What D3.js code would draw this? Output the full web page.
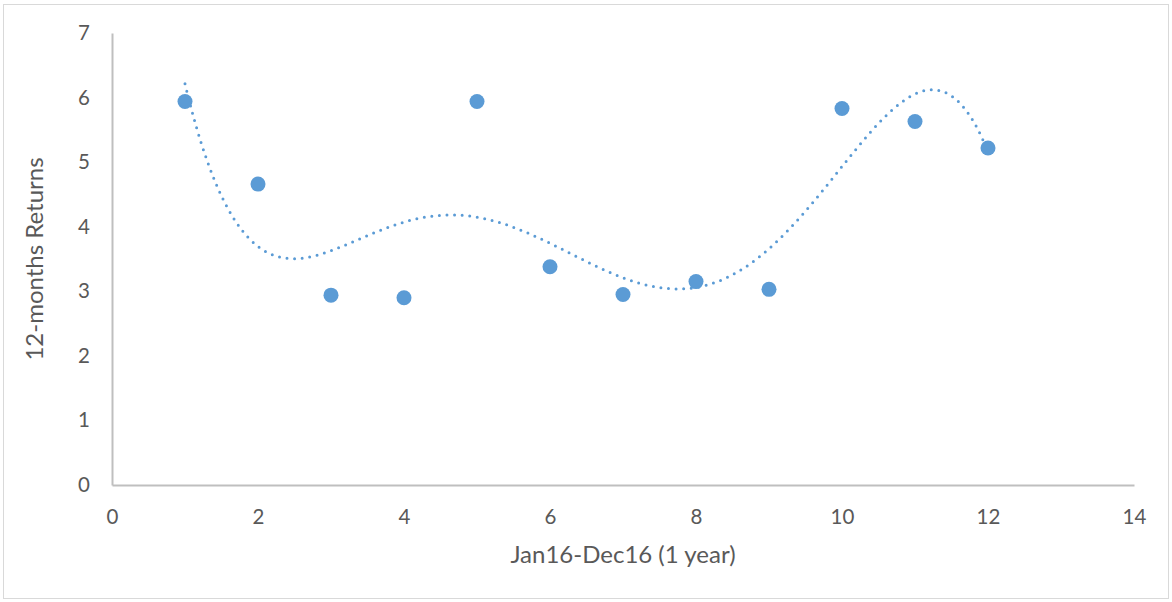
<!DOCTYPE html>
<html>
<head>
<meta charset="utf-8">
<script src="https://cdn.jsdelivr.net/npm/d3@7"></script>
<style>
  html, body { margin: 0; padding: 0; background: #fff; }
  svg { display: block; font-family: Lato, "Open Sans", sans-serif; }
</style>
</head>
<body>
<svg id="chart" width="1172" height="602"></svg>
<script>
// Monthly 12-month returns, Jan16 (1) through Dec16 (12)
const months = [1, 2, 3, 4, 5, 6, 7, 8, 9, 10, 11, 12];
const returns = [5.94, 4.66, 2.94, 2.90, 5.94, 3.38, 2.95, 3.15, 3.03, 5.83, 5.63, 5.22];
const xTicks = [0, 2, 4, 6, 8, 10, 12, 14];
const yTicks = [0, 1, 2, 3, 4, 5, 6, 7];
const trendDegree = 5;

const svg = d3.select("#chart");
const W = 1172, H = 602;
const margin = { left: 112, right: 38, top: 33, bottom: 117 };

// outer chart border
svg.append("rect")
  .attr("x", 3.5).attr("y", 4.5)
  .attr("width", W - 7).attr("height", H - 8)
  .attr("fill", "#fff").attr("stroke", "#d9d9d9").attr("stroke-width", 1);

const x = d3.scaleLinear().domain([0, 14]).range([margin.left, W - margin.right]);
const y = d3.scaleLinear().domain([0, 7]).range([H - margin.bottom, margin.top]);

// axes
const xAxis = svg.append("g")
  .attr("transform", `translate(0,${y(0)})`)
  .call(d3.axisBottom(x).tickValues(xTicks).tickSize(0).tickPadding(24).tickFormat(d3.format("d")));
const yAxis = svg.append("g")
  .attr("transform", `translate(${x(0)},0)`)
  .call(d3.axisLeft(y).tickValues(yTicks).tickSize(0).tickPadding(22).tickFormat(d3.format("d")));

[xAxis, yAxis].forEach(g => {
  g.select(".domain").attr("stroke", "#bfbfbf").attr("stroke-width", 2);
  g.selectAll("text").attr("fill", "#595959").style("font-size", "20.5px").style("font-family", "Lato, 'Open Sans', sans-serif");
});

// axis titles
svg.append("text")
  .attr("x", (x(0) + x(14)) / 2).attr("y", 563)
  .attr("text-anchor", "middle")
  .attr("fill", "#595959").style("font-size", "24px")
  .text("Jan16-Dec16 (1 year)");
svg.append("text")
  .attr("transform", `translate(43,${(y(0) + y(7)) / 2}) rotate(-90)`)
  .attr("text-anchor", "middle")
  .attr("fill", "#595959").style("font-size", "24px")
  .text("12-months Returns");

// least-squares polynomial trendline
function polyFit(xs, ys, deg) {
  const n = deg + 1;
  const A = Array.from({ length: n }, () => new Array(n + 1).fill(0));
  for (let i = 0; i < xs.length; i++) {
    for (let r = 0; r < n; r++) {
      for (let c = 0; c < n; c++) A[r][c] += Math.pow(xs[i], r + c);
      A[r][n] += ys[i] * Math.pow(xs[i], r);
    }
  }
  for (let col = 0; col < n; col++) {
    let piv = col;
    for (let r = col + 1; r < n; r++) if (Math.abs(A[r][col]) > Math.abs(A[piv][col])) piv = r;
    [A[col], A[piv]] = [A[piv], A[col]];
    for (let r = 0; r < n; r++) {
      if (r === col) continue;
      const f = A[r][col] / A[col][col];
      for (let c = col; c <= n; c++) A[r][c] -= f * A[col][c];
    }
  }
  return A.map((row, i) => row[n] / row[i]);
}
const coef = polyFit(months, returns, trendDegree);
const evalPoly = t => coef.reduce((s, c, i) => s + c * Math.pow(t, i), 0);
const trendPts = d3.range(1, 12.0001, 0.02).map(t => [t, evalPoly(t)]);

svg.append("path")
  .datum(trendPts)
  .attr("fill", "none")
  .attr("stroke", "#5b9bd5")
  .attr("stroke-width", 3)
  .attr("stroke-linecap", "round")
  .attr("stroke-dasharray", "0 7.6")
  .attr("d", d3.line().x(d => x(d[0])).y(d => y(d[1])));

// data points
svg.append("g").selectAll("circle")
  .data(months.map((m, i) => [m, returns[i]]))
  .join("circle")
  .attr("cx", d => x(d[0]))
  .attr("cy", d => y(d[1]))
  .attr("r", 7.5)
  .attr("fill", "#5b9bd5");
</script>
</body>
</html>
